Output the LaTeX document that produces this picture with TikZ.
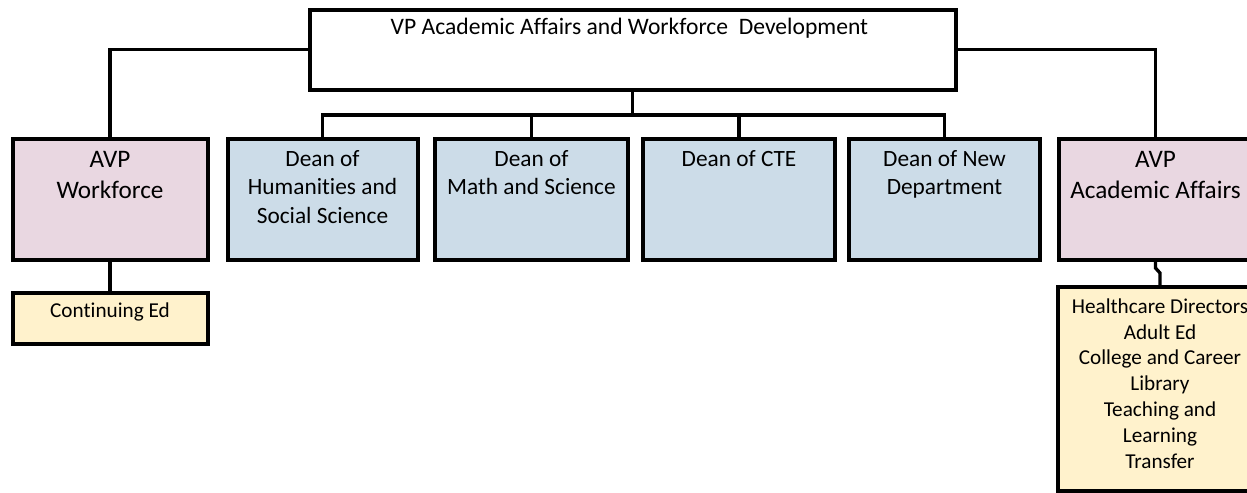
\documentclass[tikz,border=0pt]{standalone}
\usepackage{fontspec}
\setmainfont{Carlito}[Ligatures=NoCommon]
\definecolor{avppink}{HTML}{E9D7E1}
\definecolor{deanblue}{HTML}{CCDCE8}
\definecolor{unityellow}{HTML}{FFF2CC}
\begin{document}
\begin{tikzpicture}[x=0.75pt,y=-0.75pt,
  box/.style={draw=black, line width=3pt, outer sep=0pt, inner sep=0pt, anchor=north west},
  sz/.style 2 args={minimum width=#1*0.75pt, minimum height=#2*0.75pt},
  link/.style={draw=black, line width=2.5pt},
  vpbox/.style={box, fill=white},
  avpbox/.style={box, fill=avppink},
  deanbox/.style={box, fill=deanblue},
  unitbox/.style={box, fill=unityellow},
  vptext/.style={anchor=base, align=center, font=\fontsize{17.7}{21.6}\selectfont},
  deantext/.style={anchor=base, align=center, font=\fontsize{17.5}{21.5}\selectfont},
  avptext/.style={anchor=base, align=center, font=\fontsize{18.9}{23.25}\selectfont},
  unittext/.style={anchor=base, align=center, font=\fontsize{15.9}{19.35}\selectfont}
]
\useasboundingbox (0,0) rectangle (1247,493);

\node[vpbox, sz={646.5}{80},
  label={[vptext, yshift=-18.4pt, xshift=-2.5pt]north:VP Academic Affairs and Workforce\ \ Development}]
  (vp) at (309.5,9.5) {};

\node[avpbox, sz={195}{121},
  label={[avptext, yshift=-44.65pt]north:AVP\\Workforce}] (avpw) at (12.5,139) {};
\node[deanbox, sz={190}{121},
  label={[deantext, yshift=-63.25pt]north:Dean of\\Humanities and\\Social Science}] (hum) at (227.5,139) {};
\node[deanbox, sz={193}{121},
  label={[deantext, yshift=-41.75pt]north:Dean of\\Math and Science}] (math) at (435,139) {};
\node[deanbox, sz={192}{121},
  label={[deantext, yshift=-20.25pt]north:Dean of CTE}] (cte) at (643,139) {};
\node[deanbox, sz={191}{121},
  label={[deantext, yshift=-41.75pt]north:Dean of New\\Department}] (newd) at (849,139) {};
\node[avpbox, sz={193}{121},
  label={[avptext, yshift=-44.65pt]north:AVP\\Academic Affairs}] (avpa) at (1059,139) {};

\node[unitbox, sz={195}{51.5},
  label={[unittext, yshift=-19.1pt]north:Continuing Ed}] (cont) at (12.5,292.5) {};
\node[unitbox, sz={204}{204},
  label={[unittext, yshift=-135.8pt]north:Healthcare Directors\\Adult Ed\\College and Career\\Library\\Teaching and\\Learning\\Transfer}] (hc) at (1058,287) {};

\coordinate (busy) at (0,115);

\draw[link] (vp.west) -| (avpw.north);
\draw[link] (vp.east) -| (avpa.north);
\draw[link] (vp.south) -- (vp.south |- busy);
\draw[link] (hum.north) -- (hum.north |- busy) -- (newd.north |- busy) -- (newd.north);
\draw[link] (math.north) -- (math.north |- busy);
\draw[link] (cte.north) -- (cte.north |- busy);
\draw[link] (avpw.south) -- (cont.north);
\draw[link] (avpa.south) -- ++(0,8) -- ++(4.5,5) -- (hc.north);
\end{tikzpicture}
\end{document}
